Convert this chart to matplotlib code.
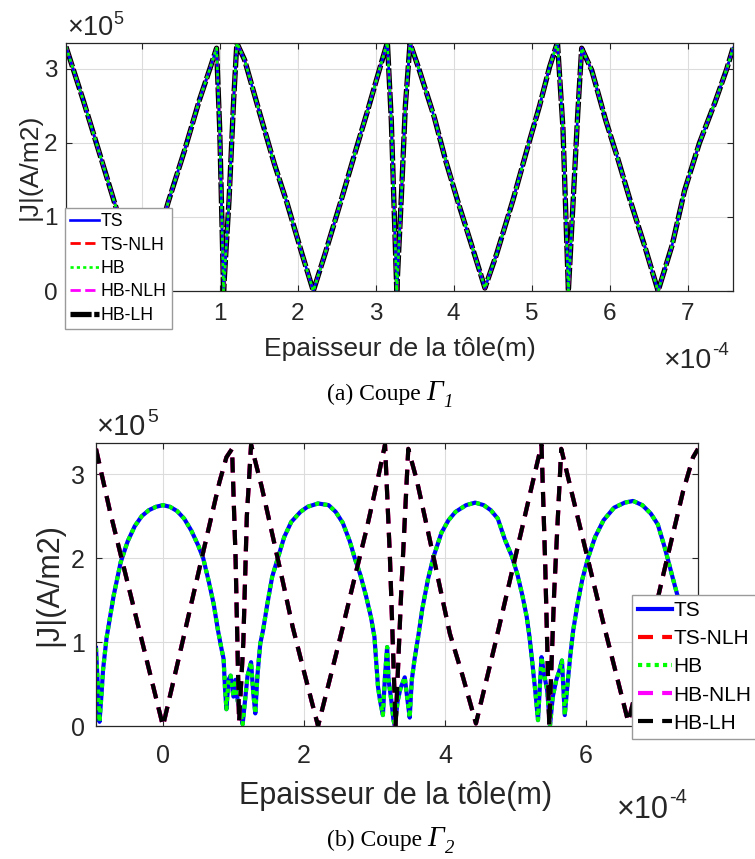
import matplotlib
matplotlib.use("Agg")
import matplotlib.pyplot as plt
from matplotlib.ticker import FuncFormatter
import numpy as np

plt.rcParams['font.family'] = ['Liberation Sans', 'DejaVu Sans']

# ---------------- data (x in 1e-4 m, |J| in 1e5 A/m2) ----------------
series_labels = ['TS', 'TS-NLH', 'HB', 'HB-NLH', 'HB-LH']

top_x = [-0.97, -0.75, -0.50, -0.35, -0.15, 0.00, 0.15, 0.34, 0.55, 0.74, 0.88, 0.96, 1.00, 1.05, 1.12,
         1.18, 1.22, 1.32, 1.50, 1.70, 1.86, 2.05, 2.20, 2.35, 2.55, 2.75, 2.90, 3.05, 3.15, 3.20, 3.27,
         3.33, 3.38, 3.44, 3.56, 3.75, 3.90, 4.05, 4.25, 4.40, 4.55, 4.76, 4.95, 5.10, 5.23, 5.33, 5.40,
         5.47, 5.53, 5.59, 5.64, 5.77, 5.95, 6.10, 6.26, 6.45, 6.62, 6.80, 6.96, 7.15, 7.35, 7.50, 7.58]
top_J = [3.30, 2.58, 1.72, 1.20, 0.52, 0.02, 0.50, 1.20, 1.90, 2.58, 3.02, 3.28, 2.20, 0.00, 1.23,
         2.60, 3.35, 3.12, 2.45, 1.72, 1.20, 0.52, 0.00, 0.50, 1.20, 1.92, 2.45, 3.00, 3.36, 2.30, 0.00,
         1.30, 2.50, 3.35, 2.98, 2.35, 1.75, 1.22, 0.55, 0.04, 0.50, 1.23, 1.95, 2.50, 3.03, 3.36, 2.20,
         0.00, 1.20, 2.40, 3.28, 2.98, 2.30, 1.80, 1.23, 0.60, 0.00, 0.62, 1.36, 2.00, 2.55, 3.00, 3.28]

bot_v_x = [-0.95, -0.75, -0.50, -0.25, 0.00, 0.20, 0.40, 0.62, 0.80, 0.90, 0.98, 1.03, 1.08, 1.14, 1.19,
           1.25, 1.40, 1.56, 1.70, 1.84, 2.00, 2.20, 2.41, 2.54, 2.70, 2.89, 3.05, 3.15, 3.22, 3.30, 3.38,
           3.48, 3.60, 3.79, 4.07, 4.25, 4.44, 4.71, 5.04, 5.25, 5.37, 5.42, 5.48, 5.55, 5.65, 5.77, 5.96,
           6.24, 6.42, 6.60, 6.80, 7.08, 7.38, 7.52, 7.59]
bot_v_J = [3.30, 2.55, 1.70, 0.85, 0.00, 0.72, 1.45, 2.25, 2.90, 3.20, 3.30, 2.00, 0.05, 1.00, 2.50,
           3.35, 2.85, 2.25, 1.72, 1.18, 0.65, 0.00, 0.70, 1.14, 1.70, 2.35, 2.95, 3.35, 2.00, 0.00, 1.60,
           3.30, 2.93, 2.20, 1.10, 0.60, 0.03, 0.97, 2.16, 2.92, 3.35, 2.00, 0.00, 1.60, 3.30, 2.88, 2.22,
           1.25, 0.65, 0.05, 0.72, 1.74, 2.80, 3.20, 3.30]

bot_arch_x = [-0.95, -0.92, -0.90, -0.87, -0.85, -0.80, -0.75, -0.70, -0.60, -0.50,
              -0.40, -0.30, -0.20, -0.10, 0.00, 0.10, 0.20, 0.30, 0.40, 0.50,
              0.57, 0.65, 0.72, 0.78, 0.83, 0.86, 0.88, 0.90, 0.93, 0.96,
              1.00, 1.03, 1.06, 1.10, 1.13, 1.17, 1.20, 1.25, 1.28, 1.31,
              1.34, 1.38, 1.42, 1.48, 1.55, 1.63, 1.72, 1.82, 1.95, 2.05,
              2.20, 2.35, 2.45, 2.55, 2.65, 2.72, 2.80, 2.88, 2.95, 3.00,
              3.05, 3.08, 3.12, 3.15, 3.18, 3.20, 3.24, 3.27, 3.29, 3.33,
              3.37, 3.43, 3.47, 3.50, 3.53, 3.57, 3.62, 3.68, 3.76, 3.84,
              3.95, 4.05, 4.15, 4.30, 4.43, 4.55, 4.65, 4.75, 4.85, 4.95,
              5.03, 5.10, 5.16, 5.20, 5.24, 5.28, 5.32, 5.37, 5.41, 5.45,
              5.49, 5.53, 5.58, 5.62, 5.66, 5.70, 5.74, 5.78, 5.82, 5.88,
              5.95, 6.03, 6.13, 6.25, 6.40, 6.55, 6.67, 6.80, 6.92, 7.02,
              7.12, 7.22, 7.30, 7.38, 7.46, 7.53, 7.59]
bot_arch_J = [0.93, 0.40, 0.05, 0.40, 0.67, 1.05, 1.30, 1.55, 1.95, 2.20,
              2.38, 2.50, 2.57, 2.61, 2.63, 2.61, 2.56, 2.47, 2.33, 2.15,
              2.00, 1.72, 1.45, 1.14, 0.92, 0.80, 0.45, 0.20, 0.55, 0.60,
              0.35, 0.55, 0.30, 0.15, 0.02, 0.35, 0.60, 0.76, 0.40, 0.15,
              0.60, 0.98, 1.14, 1.45, 1.78, 2.00, 2.25, 2.43, 2.55, 2.61,
              2.65, 2.63, 2.55, 2.42, 2.20, 2.00, 1.80, 1.55, 1.30, 1.06,
              0.47, 0.30, 0.13, 0.60, 0.94, 0.55, 0.30, 0.07, 0.00, 0.30,
              0.45, 0.58, 0.30, 0.10, 0.55, 0.80, 1.06, 1.40, 1.75, 2.02,
              2.30, 2.45, 2.55, 2.63, 2.66, 2.63, 2.57, 2.47, 2.22, 2.02,
              1.80, 1.55, 1.30, 1.06, 0.75, 0.43, 0.07, 0.82, 0.60, 0.43,
              0.00, 0.35, 0.55, 0.65, 0.78, 0.13, 0.51, 0.85, 1.14, 1.45,
              1.75, 2.00, 2.25, 2.45, 2.60, 2.66, 2.68, 2.63, 2.53, 2.40,
              2.12, 1.80, 1.55, 1.35, 1.15, 1.00, 0.85]

top_xticks = [0, 1, 2, 3, 4, 5, 6, 7]
bot_xticks = [0, 2, 4, 6]
yticks = [0, 1, 2, 3]

XS, YS = 1e-4, 1e5
W, H = 755, 859
fig = plt.figure(figsize=(W / 100, H / 100), dpi=100)

def sc(v, s):
    return np.asarray(v) * s

def ftext(px, py, s, **kw):
    return fig.text(px / W, 1 - py / H, s, **kw)

DARK = '#262626'

def style_axes(ax, xlim, ylim, xt, tick_size, xpad, ypad, hide_zero_x=False):
    ax.set_xlim(xlim[0] * XS, xlim[1] * XS)
    ax.set_ylim(ylim[0] * YS, ylim[1] * YS)
    ax.set_xticks([t * XS for t in xt])
    ax.set_yticks([t * YS for t in yticks])
    if hide_zero_x:
        ax.xaxis.set_major_formatter(FuncFormatter(
            lambda v, p: '' if abs(v) < 1e-12 else f"{round(v / XS, 6):g}"))
    else:
        ax.xaxis.set_major_formatter(FuncFormatter(lambda v, p: f"{round(v / XS, 6):g}"))
    ax.yaxis.set_major_formatter(FuncFormatter(lambda v, p: f"{round(v / YS, 6):g}"))
    ax.grid(True, color='#dcdcdc', lw=0.8)
    ax.set_axisbelow(True)
    ax.tick_params(direction='in', top=True, right=True, length=4.5, width=0.8,
                   colors=DARK, labelsize=tick_size)
    ax.tick_params(axis='x', pad=xpad)
    ax.tick_params(axis='y', pad=ypad)
    for sp in ax.spines.values():
        sp.set_color(DARK)
        sp.set_linewidth(0.9)

# ---------------- top axes ----------------
ax1 = fig.add_axes([66 / W, 1 - 291 / H, 667 / W, 248 / H])
tx, ty = sc(top_x, XS), sc(top_J, YS)
h5 = ax1.plot(tx, ty, color='black', lw=3.8, dashes=(4, 0.5), zorder=2)[0]
h4 = ax1.plot(tx, ty, color='#ff00ff', lw=2.0, dashes=(3.7, 1.6), zorder=2.1)[0]
h2 = ax1.plot(tx, ty, color='red', lw=2.0, dashes=(3.7, 1.6), zorder=2.2)[0]
h1 = ax1.plot(tx, ty, color='blue', lw=1.9, zorder=2.3)[0]
h3 = ax1.plot(tx, ty, color='#00ff00', lw=1.9, dashes=(1.2, 1.2), zorder=2.4)[0]
style_axes(ax1, (-0.97, 7.58), (0, 3.35), top_xticks, 17.5, 8.5, 6, hide_zero_x=True)
ax1.set_xlabel('Epaisseur de la tôle(m)', fontsize=19, color=DARK)
ax1.xaxis.set_label_coords(0.5, -(337 - 291) / 248)
ax1.set_ylabel('|J|(A/m2)', fontsize=19, color=DARK)
ax1.yaxis.set_label_coords(-(66 - 42) / 667, 0.5)
leg1 = ax1.legend([h1, h2, h3, h4, h5], series_labels, loc='lower left',
                  bbox_to_anchor=(-1 / 667, (291 - 329) / 248), borderaxespad=0,
                  fontsize=12.7, fancybox=False, framealpha=1, edgecolor='#9a9a9a',
                  handlelength=1.6, handletextpad=0.1, labelspacing=0.36, borderpad=0.3)
leg1.get_frame().set_linewidth(1.0)
leg1.set_zorder(10)

# ---------------- bottom axes ----------------
ax2 = fig.add_axes([96 / W, 1 - 726 / H, 602 / W, 283 / H])
ax_, ay_ = sc(bot_arch_x, XS), sc(bot_arch_J, YS)
vx, vy = sc(bot_v_x, XS), sc(bot_v_J, YS)
g1 = ax2.plot(ax_, ay_, color='blue', lw=3.0, zorder=2)[0]
g2 = ax2.plot(vx, vy, color='red', lw=3.0, dashes=(3.6, 2.2), zorder=2.1)[0]
g3 = ax2.plot(ax_, ay_, color='#00ff00', lw=3.0, dashes=(1, 1), zorder=2.2)[0]
g4 = ax2.plot(vx, vy, color='#ff00ff', lw=3.0, dashes=(3.6, 2.2), zorder=2.3)[0]
g5 = ax2.plot(vx, vy, color='black', lw=3.0, dashes=(3.6, 2.2), zorder=2.4)[0]
style_axes(ax2, (-0.95, 7.59), (0, 3.37), bot_xticks, 18, 13, 8)
ax2.set_xlabel('Epaisseur de la tôle(m)', fontsize=22, color=DARK)
ax2.xaxis.set_label_coords(0.498, -(781 - 726) / 283)
ax2.set_ylabel('|J|(A/m2)', fontsize=22, color=DARK)
ax2.yaxis.set_label_coords(-(96 - 64) / 602, 0.5)
leg2 = ax2.legend([g1, g2, g3, g4, g5], series_labels, loc='lower left',
                  bbox_to_anchor=((632 - 96) / 602, (726 - 739) / 283), borderaxespad=0,
                  fontsize=15, fancybox=False, framealpha=1, edgecolor='#9a9a9a',
                  handlelength=1.6, handletextpad=0.1, labelspacing=0.44, borderpad=0.3)
leg2.get_frame().set_linewidth(1.0)
leg2.set_zorder(10)

# ---------------- exponent labels and captions (placed from measured extents) ----------------
fig.canvas.draw()
renderer = fig.canvas.get_renderer()

def right_px(t):
    return t.get_window_extent(renderer).x1

def base_then_sup(px, py, base, sup, bsize, ssize, rise, gap=0.5, **kw):
    t = ftext(px, py, base, fontsize=bsize, va='baseline', ha='left', **kw)
    x1 = right_px(t)
    ftext(x1 + gap, py - rise, sup, fontsize=ssize, va='baseline', ha='left', **kw)

base_then_sup(67, 35, '×10', '5', 19.5, 13, 11, color=DARK)
base_then_sup(663, 368, '×10', '-4', 20.5, 13.5, 13, color=DARK)
base_then_sup(97, 435, '×10', '5', 21, 14, 13, color=DARK)
base_then_sup(617, 818, '×10', '-4', 22, 14.5, 15, color=DARK)

def caption(px, py, label, sub):
    t = ftext(px, py, label, fontsize=17, family='Liberation Serif', va='baseline', ha='left')
    x1 = right_px(t)
    g = ftext(x1 + 5, py, 'Γ', fontsize=21, family='Liberation Serif', style='italic',
              va='baseline', ha='left')
    x2 = right_px(g)
    ftext(x2 + 1, py + 7, sub, fontsize=13.5, family='Liberation Serif', style='italic',
          va='baseline', ha='left')

caption(327, 400, '(a) Coupe', '1')
caption(327, 846, '(b) Coupe', '2')

fig.savefig('out.png', dpi=100)
